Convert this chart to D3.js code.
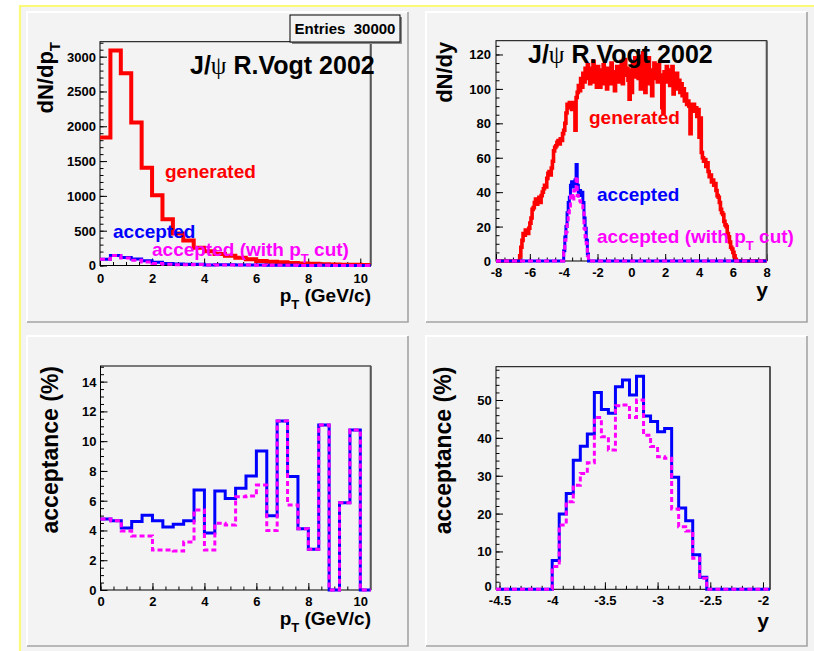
<!DOCTYPE html>
<html><head><meta charset="utf-8">
<script src="https://cdn.jsdelivr.net/npm/d3@7"></script>
<style>
body{margin:0;background:#fff;}
svg text{font-family:"Liberation Sans",Arial,Helvetica,sans-serif;font-weight:bold;}
.ttl{white-space:pre;}
</style>
</head><body>
<svg id="c" width="814" height="651"></svg>
<script>
// ---------------- DATA ----------------
// pT histograms: 26 bins of 0.4 GeV/c from 0 to 10.4
const ptBinStart = 0, ptBinWidth = 0.4;
const ptGenerated = [1840,3090,2760,2055,1405,1010,665,460,360,255,205,165,140,110,90,65,55,45,35,30,25,18,15,12,10,8];
const ptAccepted  = [88,144,115,95,70,47,28,20,17,17,8,11,9,8,7,6,3,5,3,1,1,2,0,1,1,0];
const ptAcceptedCut = [88,144,109,75,51,27,18,12,12,14,6,7,6,7,6,5,2,5,2,1,1,2,0,1,1,0];
// acceptance (%) vs pT
const accPt    = [4.77,4.66,4.17,4.61,5.02,4.66,4.23,4.41,4.66,6.72,3.83,6.65,6.14,6.83,7.66,9.34,4.99,11.36,7.62,4.12,2.73,11.09,0,5.87,10.75,0];
const accPtCut = [4.77,4.66,3.96,3.63,3.63,2.69,2.69,2.62,3.23,5.38,2.69,4.48,4.37,6.27,6.32,7.06,3.99,11.36,5.71,4.12,2.73,11.09,0,5.87,10.75,0];

// rapidity histograms: 240 bins from -8 to 8
const yBinStart = -8, yBinWidth = 16/240;
const yGenerated = [
0,0,0,0,0,0,0,0,0,0,
0,0,0,0,0,0,0,0,0,0,
0,3,8,12,16,15,18,17,16,19,
22,25,30,31,34,36,33,35,37,34,
38,40,42,44,43,48,51,52,50,54,
58,64,66,67,69,70,68,71,70,74,
76,80,86,91,89,92,90,88,92,89,
76,95,98,102,99,106,101,109,104,112,
106,114,108,103,112,107,116,104,110,101,
113,106,101,111,105,114,103,109,100,112,
107,103,115,106,110,99,108,113,104,111,
106,116,103,110,117,108,112,105,94,111,
98,114,107,118,110,115,106,119,100,112,
121,109,98,114,107,118,103,111,96,108,
115,106,112,104,114,108,104,89,86,110,
106,113,104,111,102,108,113,97,106,102,
109,100,105,98,103,96,100,93,97,91,
93,90,74,91,88,91,87,89,84,88,
72,83,63,60,58,59,55,57,52,49,
50,46,47,44,45,41,38,37,34,30,
28,27,23,21,20,16,14,11,8,7,
5,3,1,0,0,0,0,0,0,0,
0,0,0,0,0,0,0,0,0,0,
0,0,0,0,0,0,0,0,0,0];
// accepted in rapidity: non-zero bins start at y = -4.0 (22 bins)
const yAccFirst = -4.0;
const yAcceptedSeg    = [6,14,20,28,34,37,44,46,43,45,47,56,44,40,41,38,40,34,25,19,12,4];
const yAcceptedCutSeg = [5,12,17,23,28,31,39,38,35,41,40,49,38,35,35,33,33,30,19,14,10,3];
// acceptance (%) vs y: 39 bins from -4.5333 to -1.9333
const accYFirst = -4.0 - 8*16/240;
const accY    = [0,0,0,0,0,0,0,0,7.6,19.9,25.3,34.1,37.8,41.0,52.0,47.5,46.5,53.5,55.3,51.3,56.3,45.8,44.3,41.6,42.5,29.6,21.5,18.1,9.1,3.2,0,0,0,0,0,0,0,0,0];
const accYCut = [0,0,0,0,0,0,0,0,6.0,17.0,23.1,27.5,30.6,33.4,45.4,40.3,36.8,48.5,48.7,45.4,50.0,40.7,37.7,35.0,34.6,21.2,16.5,15.4,8.2,2.9,0,0,0,0,0,0,0,0,0];

// tick labels
const ptTicks = [0,2,4,6,8,10];
const genPtTicks = [0,500,1000,1500,2000,2500,3000];
const yTicksTop = [-8,-6,-4,-2,0,2,4,6,8];
const genYTicks = [0,20,40,60,80,100,120];
const accPtTicks = [0,2,4,6,8,10,12,14];
const yTicksBot = [-4.5,-4,-3.5,-3,-2.5,-2];
const accYTicks = [0,10,20,30,40,50];

// ---------------- DRAW ----------------
const svg = d3.select('#c');
const RED='#ff0000', BLUE='#0000ff', MAG='#ff00ff';

svg.append('rect').attr('x',20).attr('y',6).attr('width',794).attr('height',645).attr('fill','#f3f3f3');
svg.append('line').attr('x1',19).attr('x2',814).attr('y1',6).attr('y2',6).attr('stroke','#fafa78').attr('stroke-width',2.2);
svg.append('line').attr('x1',20).attr('x2',20).attr('y1',5).attr('y2',651).attr('stroke','#fafa78').attr('stroke-width',2.2);

function pad(x0,y0,x1,y1){
  svg.append('rect').attr('x',x0).attr('y',y0).attr('width',x1-x0).attr('height',y1-y0).attr('fill','#f3f3f3');
  svg.append('path').attr('d',`M${x0},${y1}L${x0},${y0}L${x1},${y0}`).attr('fill','none').attr('stroke','#ffffff').attr('stroke-width',2);
  svg.append('path').attr('d',`M${x0},${y1}L${x1},${y1}L${x1},${y0}`).attr('fill','none').attr('stroke','#a4a4a4').attr('stroke-width',1.6);
}
pad(27,12,408,322);
pad(426,12,807,322);
pad(27,336,408,646);
pad(426,336,807,646);

function frame(p){
  const g = svg.append('g');
  const [xa,xb]=p.x.range(), [ya,yb]=p.y.range();
  g.append('g').attr('transform',`translate(${xa},0)`)
    .call(d3.axisLeft(p.y).tickValues(p.yMinor).tickSize(-3.5).tickFormat(''))
    .call(s=>s.select('.domain').remove());
  g.append('g').attr('transform',`translate(0,${ya})`)
    .call(d3.axisBottom(p.x).tickValues(p.xMinor).tickSize(-3.5).tickFormat(''))
    .call(s=>s.select('.domain').remove());
  const gy = g.append('g').attr('transform',`translate(${xa},0)`)
    .call(d3.axisLeft(p.y).tickValues(p.yMajor).tickSize(-7).tickPadding(p.yPad).tickFormat(v=>String(v)))
    .call(s=>s.select('.domain').remove());
  const gx = g.append('g').attr('transform',`translate(0,${ya})`)
    .call(d3.axisBottom(p.x).tickValues(p.xMajor).tickSize(-7).tickFormat(v=>String(v)))
    .call(s=>s.select('.domain').remove());
  g.selectAll('.tick line').attr('stroke','#000');
  gy.selectAll('text').attr('font-size',13).attr('font-family','Liberation Sans, Arial, sans-serif').attr('font-weight','bold').attr('fill','#000').attr('dy','0.34em');
  if(p.zeroUp) gy.selectAll('text').filter(d=>d===0).attr('dy','0.1em');
  gx.selectAll('text').attr('font-size',13).attr('font-family','Liberation Sans, Arial, sans-serif').attr('font-weight','bold').attr('fill','#000').attr('y',p.xLab).attr('dy',0);
  g.append('rect').attr('x',xa).attr('y',yb).attr('width',xb-xa).attr('height',ya-yb)
    .attr('fill','none').attr('stroke','#000').attr('stroke-width',1);
  g.append('line').attr('x1',xb).attr('x2',xb).attr('y1',yb).attr('y2',ya).attr('stroke','#555').attr('stroke-width',2);
}

function hist(p, start, width, values, color, lw, dash){
  const pts=[];
  values.forEach((v,i)=>{pts.push([start+i*width,v]);pts.push([start+(i+1)*width,v]);});
  const line=d3.line().x(d=>p.x(d[0])).y(d=>p.y(d[1]));
  svg.append('path').attr('d',line(pts)).attr('fill','none').attr('stroke',color)
    .attr('stroke-width',lw).attr('stroke-linejoin','miter').attr('stroke-linecap','butt')
    .attr('stroke-dasharray',dash||null);
}

function txt(x,y,s,size,color,anchor){
  return svg.append('text').attr('x',x).attr('y',y).attr('font-size',size).attr('fill',color||'#000')
    .attr('text-anchor',anchor||'start').text(s);
}
function title(x,y){
  const t=svg.append('text').attr('x',x).attr('y',y).attr('font-size',25).attr('fill','#000').attr('class','ttl');
  t.append('tspan').text('J/');
  t.append('tspan').attr('font-family','Liberation Serif, DejaVu Serif, serif').attr('font-weight','normal').text('ψ');
  t.append('tspan').text(' R.Vogt 2002');
}
function withPt(x,y,color){
  const t=svg.append('text').attr('x',x).attr('y',y).attr('font-size',19).attr('fill',color).attr('class','ttl');
  t.append('tspan').text('accepted (with p');
  t.append('tspan').attr('font-size',13).attr('dy',7).text('T');
  t.append('tspan').attr('dy',-7).text(' cut)');
}
function ptTitle(xEnd,y){
  const t=svg.append('text').attr('x',xEnd).attr('y',y).attr('font-size',19).attr('fill','#000').attr('text-anchor','end').attr('class','ttl');
  t.append('tspan').text('p');
  t.append('tspan').attr('font-size',13).attr('dy',7).text('T');
  t.append('tspan').attr('dy',-7).text(' (GeV/c)');
}
function yTitle(xBase,yEnd,size,parts){
  const t=svg.append('text').attr('transform',`translate(${xBase},${yEnd}) rotate(-90)`)
    .attr('x',0).attr('y',0).attr('font-size',size).attr('fill','#000').attr('text-anchor','end').attr('class','ttl');
  parts.forEach(pp=>{const s=t.append('tspan').text(pp.t); if(pp.sub){s.attr('font-size',size*0.68).attr('dy',7);} });
}

// ---- Panel 1: dN/dpT
const P1={x:d3.scaleLinear().domain([0,10.4]).range([100,370.7]),
          y:d3.scaleLinear().domain([0,3215]).range([265.5,41.7]),
          xMajor:ptTicks, xMinor:d3.range(0,10.41,0.5), yMajor:genPtTicks, yMinor:d3.range(0,3201,100), yPad:4, xLab:17};
frame(P1);
hist(P1,ptBinStart,ptBinWidth,ptGenerated,RED,4);
hist(P1,ptBinStart,ptBinWidth,ptAccepted,BLUE,3);
hist(P1,ptBinStart,ptBinWidth,ptAcceptedCut,MAG,3,'5,3');
svg.append('rect').attr('x',292).attr('y',17).attr('width',110).attr('height',27).attr('fill','#888');
svg.append('rect').attr('x',290).attr('y',15).attr('width',110).attr('height',27).attr('fill','#f3f3f3').attr('stroke','#000').attr('stroke-width',1);
txt(345,34,'Entries  30000',15,'#000','middle').attr('class','ttl');
title(190,74);
txt(165,178,'generated',19,RED);
txt(113,237.5,'accepted',19,BLUE);
withPt(152,256,MAG);
ptTitle(371,301.5);
yTitle(53,42,22,[{t:'dN/dp'},{t:'T',sub:true}]);

// ---- Panel 2: dN/dy
const P2={x:d3.scaleLinear().domain([-8,8]).range([496,766.7]),
          y:d3.scaleLinear().domain([0,128]).range([261,40.7]),
          xMajor:yTicksTop, xMinor:d3.range(-8,8.01,0.5), yMajor:genYTicks, yMinor:d3.range(0,126,5), yPad:5, xLab:16};
frame(P2);
const zerosL = new Array(Math.round((yAccFirst-yBinStart)/yBinWidth)).fill(0);
const zerosR = new Array(240-zerosL.length-yAcceptedSeg.length).fill(0);
hist(P2,yBinStart,yBinWidth,yGenerated,RED,3.6);
hist(P2,yBinStart,yBinWidth,zerosL.concat(yAcceptedSeg,zerosR),BLUE,3);
hist(P2,yBinStart,yBinWidth,zerosL.concat(yAcceptedCutSeg,zerosR),MAG,3,'5,3');
title(528,63);
txt(589,124,'generated',19,RED);
txt(597,200.5,'accepted',19,BLUE);
withPt(597,243,MAG);
txt(768,297,'y',21,'#000','end');
yTitle(452,41.7,22,[{t:'dN/dy'}]);

// ---- Panel 3: acceptance vs pT
const P3={x:d3.scaleLinear().domain([0,10.4]).range([100.5,370.7]),
          y:d3.scaleLinear().domain([0,15.05]).range([590,366]),
          xMajor:ptTicks, xMinor:d3.range(0,10.41,0.5), yMajor:accPtTicks, yMinor:d3.range(0,15.01,0.5), yPad:4, xLab:15.5};
frame(P3);
hist(P3,ptBinStart,ptBinWidth,accPt,BLUE,3);
hist(P3,ptBinStart,ptBinWidth,accPtCut,MAG,3,'5,3');
ptTitle(371,625);
yTitle(57.5,366,23,[{t:'acceptance (%)'}]);

// ---- Panel 4: acceptance vs y
const P4={x:d3.scaleLinear().domain([accYFirst,accYFirst+39*yBinWidth]).range([496,770]),
          y:d3.scaleLinear().domain([0,58.8]).range([589.3,366.7]),
          xMajor:yTicksBot, xMinor:d3.range(-4.5,-1.93,0.1), yMajor:accYTicks, yMinor:d3.range(0,58.1,2), yPad:4.3, xLab:16, zeroUp:true};
frame(P4);
hist(P4,accYFirst,yBinWidth,accY,BLUE,3);
hist(P4,accYFirst,yBinWidth,accYCut,MAG,3,'5,3');
txt(769,627.5,'y',21,'#000','end');
yTitle(451,366.7,23,[{t:'acceptance (%)'}]);
</script>
</body></html>
